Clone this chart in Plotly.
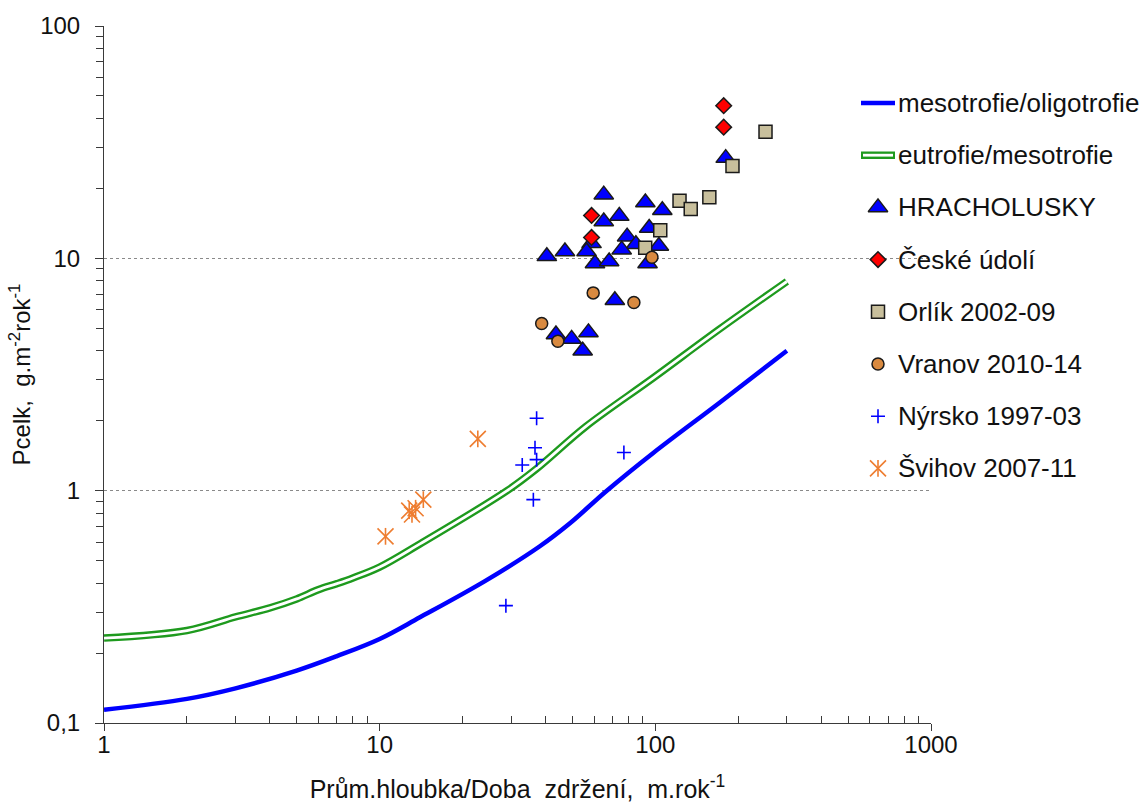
import plotly.graph_objects as go

W, H = 1140, 807
FONT = "Liberation Sans, Arial, sans-serif"

# Trophic boundary curves
curve_x = [1, 2, 3, 5, 7, 10, 14, 24, 38, 49, 66, 98, 170, 300]
meso_oligo = [0.114, 0.127, 0.141, 0.168, 0.194, 0.230, 0.285, 0.407, 0.575,
              0.724, 0.99, 1.45, 2.38, 4.0]
eutro_x = [1, 2, 3, 4, 5, 6, 7, 8, 10, 14, 29, 37, 56, 98, 171, 300]
eutro_meso = [0.232, 0.250, 0.286, 0.313, 0.342, 0.375, 0.398, 0.421, 0.469,
              0.59, 1.0, 1.24, 1.89, 3.05, 4.96, 7.95]

# Reservoirs: hydraulic load (m/yr) vs. total P load (g/m2/yr)
hrach_x = [180, 65, 92, 106, 74, 65, 95, 79, 85, 103, 75.5, 58.7, 56.3, 47,
           40.4, 60.4, 68, 93.7, 71.3, 43.6, 49.7, 57.2, 54.5]
hrach_y = [27.0, 18.8, 17.4, 16.1, 15.2, 14.4, 13.5, 12.4, 11.5, 11.3, 10.9,
           11.6, 10.7, 10.7, 10.2, 9.5, 9.7, 9.5, 6.6, 4.7, 4.5, 4.8, 4.0]
ceske_x = [177, 177, 58.7, 58.7]
ceske_y = [45.4, 36.7, 15.3, 12.3]
orlik_x = [251, 190.5, 157, 122.4, 134.4, 104.2, 91.9]
orlik_y = [35.1, 25.0, 18.3, 17.7, 16.3, 13.2, 11.1]
vranov_x = [97.2, 59.5, 83.6, 38.7, 44.3]
vranov_y = [10.1, 7.1, 6.45, 5.24, 4.40]
nyrsko_x = [37.1, 36.6, 37.1, 32.9, 36.1, 76.9, 28.7]
nyrsko_y = [2.05, 1.53, 1.36, 1.29, 0.915, 1.46, 0.32]
svihov_x = [22.7, 14.4, 12.8, 13.1, 13.5, 10.5]
svihov_y = [1.67, 0.915, 0.82, 0.79, 0.84, 0.636]

x_ticks = [1, 10, 100, 1000]
x_ticktext = ["1", "10", "100", "1000"]
y_ticks = [0.1, 1, 10, 100]
y_ticktext = ["0,1", "1", "10", "100"]
x_minor = [m * d for d in (1, 10, 100) for m in range(2, 10)]
y_minor = [m * d for d in (0.1, 1, 10) for m in range(2, 10)]

series_names = ["mesotrofie/oligotrofie", "eutrofie/mesotrofie", "HRACHOLUSKY",
                "České údolí", "Orlík 2002-09", "Vranov 2010-14",
                "Nýrsko 1997-03", "Švihov 2007-11"]

BLUE = "#0000FF"
GREEN = "#1E9A1E"
RED = "#FF0000"
TAN = "#C8BF9C"
BROWN = "#D98A40"
ORANGE = "#EE7D30"
EDGE = dict(color="#1a1a1a", width=1.5)

styles = {
    "HRACHOLUSKY": dict(symbol="triangle-up", size=17, color=BLUE, line=EDGE),
    "České údolí": dict(symbol="diamond", size=12, color=RED, line=EDGE),
    "Orlík 2002-09": dict(symbol="square", size=13, color=TAN, line=EDGE),
    "Vranov 2010-14": dict(symbol="circle", size=12, color=BROWN, line=EDGE),
    "Nýrsko 1997-03": dict(symbol="cross-thin-open", size=10, color=BLUE,
                           line=dict(color=BLUE, width=1.6)),
}
star_x = dict(symbol="x-thin-open", size=16, color=ORANGE, line=dict(color=ORANGE, width=1.6))
star_v = dict(symbol="line-ns-open", size=12, color=ORANGE, line=dict(color=ORANGE, width=1.6))

fig = go.Figure()

# boundary curves
fig.add_trace(go.Scatter(x=curve_x, y=meso_oligo, mode="lines",
                         line=dict(color=BLUE, width=4.5, shape="spline"),
                         showlegend=False))
fig.add_trace(go.Scatter(x=eutro_x, y=eutro_meso, mode="lines",
                         line=dict(color=GREEN, width=7.5, shape="spline"),
                         showlegend=False))
fig.add_trace(go.Scatter(x=eutro_x, y=eutro_meso, mode="lines",
                         line=dict(color="white", width=2.8, shape="spline"),
                         showlegend=False))

# reservoir points
for name, xs, ys in [("HRACHOLUSKY", hrach_x, hrach_y),
                     ("České údolí", ceske_x, ceske_y),
                     ("Orlík 2002-09", orlik_x, orlik_y),
                     ("Vranov 2010-14", vranov_x, vranov_y),
                     ("Nýrsko 1997-03", nyrsko_x, nyrsko_y)]:
    fig.add_trace(go.Scatter(x=xs, y=ys, mode="markers", name=name,
                             marker=styles[name], showlegend=False))
fig.add_trace(go.Scatter(x=svihov_x, y=svihov_y, mode="markers", marker=star_x, showlegend=False))
fig.add_trace(go.Scatter(x=svihov_x, y=svihov_y, mode="markers", marker=star_v, showlegend=False))

# legend block, laid out in pixel units on its own overlay axes
LEG_TOP, LEG_STEP = 103, 52.2
LINE_X0, LINE_X1, SYM_X, TEXT_X = 861, 895, 878, 896
rows = [LEG_TOP + i * LEG_STEP for i in range(len(series_names))]

fig.add_trace(go.Scatter(x=[LINE_X0, LINE_X1], y=[rows[0], rows[0]], mode="lines",
                         line=dict(color=BLUE, width=4.5), xaxis="x2", yaxis="y2",
                         showlegend=False))
fig.add_trace(go.Scatter(x=[LINE_X0, LINE_X1], y=[rows[1], rows[1]], mode="lines",
                         line=dict(color=GREEN, width=7.5), xaxis="x2", yaxis="y2",
                         showlegend=False))
fig.add_trace(go.Scatter(x=[LINE_X0 + 2, LINE_X1 - 2], y=[rows[1], rows[1]], mode="lines",
                         line=dict(color="white", width=2.8), xaxis="x2", yaxis="y2",
                         showlegend=False))
for i, name in enumerate(series_names[2:7], start=2):
    fig.add_trace(go.Scatter(x=[SYM_X], y=[rows[i]], mode="markers", marker=styles[name],
                             xaxis="x2", yaxis="y2", showlegend=False))
for m in (star_x, star_v):
    fig.add_trace(go.Scatter(x=[SYM_X], y=[rows[7]], mode="markers", marker=m,
                             xaxis="x2", yaxis="y2", showlegend=False))

annotations = [dict(x=TEXT_X, y=r, xref="x2", yref="y2", text=t, showarrow=False,
                    xanchor="left", yanchor="middle",
                    font=dict(family=FONT, size=26, color="#111111"))
               for t, r in zip(series_names, rows)]

PL, PR, PT, PB = 104, 931, 26, 723
axis_common = dict(
    type="log", showline=True, linecolor="#3a3a3a", linewidth=1,
    tickcolor="#3a3a3a", tickfont=dict(family=FONT, size=24, color="#111111"),
    zeroline=False,
)

fig.update_layout(
    width=W, height=H,
    margin=dict(l=0, r=0, t=0, b=0, autoexpand=False),
    paper_bgcolor="white", plot_bgcolor="rgba(0,0,0,0)",
    font=dict(family=FONT, color="#111111"),
    showlegend=False,
    annotations=annotations,
    xaxis=dict(
        axis_common, domain=[PL / W, PR / W], range=[0, 3],
        tickvals=x_ticks, ticktext=x_ticktext,
        ticks="outside", ticklen=7, ticklabelstandoff=-7,
        showgrid=False,
        minor=dict(tickvals=x_minor, ticks="inside", ticklen=7,
                   tickcolor="#3a3a3a", showgrid=False),
        title=dict(text="Prům.hloubka/Doba\u00a0 zdržení,\u00a0 m.rok<sup>-1</sup>",
                   font=dict(family=FONT, size=25, color="#111111"), standoff=23),
    ),
    yaxis=dict(
        axis_common, domain=[1 - PB / H, 1 - PT / H], range=[-1, 2],
        tickvals=y_ticks, ticktext=y_ticktext,
        ticks="outside", ticklen=8, ticklabelstandoff=10,
        showgrid=True, gridcolor="#8a8a8a", griddash="dot", gridwidth=1,
        minor=dict(tickvals=y_minor, ticks="outside", ticklen=7,
                   tickcolor="#3a3a3a", showgrid=False),
        title=dict(text="Pcelk,\u00a0 g.m<sup>-2</sup>rok<sup>-1</sup>",
                   font=dict(family=FONT, size=24, color="#111111"), standoff=2),
    ),
    xaxis2=dict(domain=[0, 1], range=[0, W], visible=False, fixedrange=True, anchor="y2"),
    yaxis2=dict(domain=[0, 1], range=[H, 0], visible=False, fixedrange=True, anchor="x2"),
)

fig.write_html("out.html")
